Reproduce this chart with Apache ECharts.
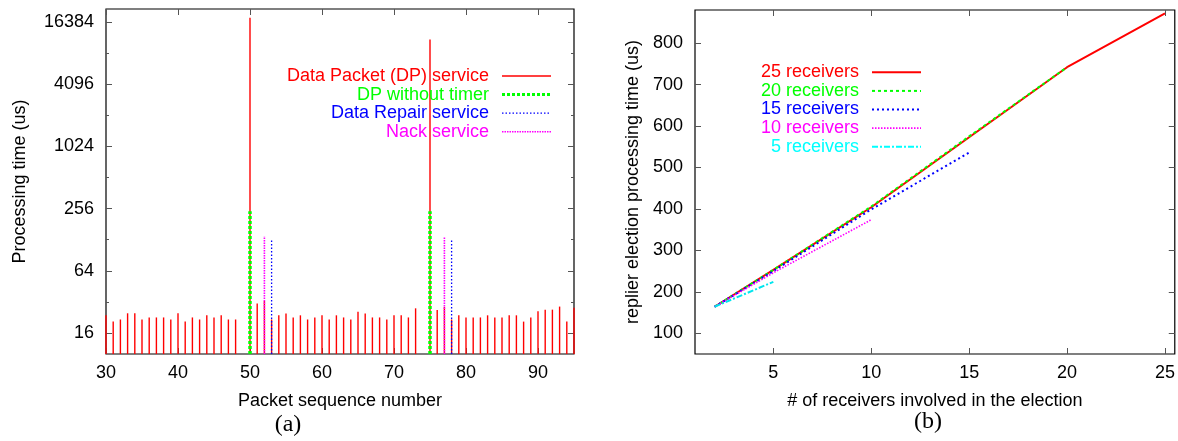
<!DOCTYPE html>
<html><head><meta charset="utf-8">
<script src="https://cdn.jsdelivr.net/npm/echarts@6/dist/echarts.min.js"></script>
<style>html,body{margin:0;padding:0;background:#fff}#c{width:1178px;height:441px}</style>
</head><body><div id="c"></div>
<script>
// ---------- Chart (a): processing time per packet (us) ----------
const packetSeq = [30,31,32,33,34,35,36,37,38,39,40,41,42,43,44,45,46,47,48,49,50,51,52,53,54,55,56,57,58,59,60,61,62,63,64,65,66,67,68,69,70,71,72,73,74,75,76,77,78,79,80,81,82,83,84,85,86,87,88,89,90,91,92,93,94,95];
const dpService = [23.7,20.6,21.6,24.8,24.8,21.6,22.6,22.6,22.6,21.6,24.8,20.6,22.6,21.6,23.7,22.6,23.7,21.6,21.6,null,18070,30.9,32.7,21.6,23.7,24.7,22.6,23.7,21.6,22.6,23.7,21.6,23.7,22.6,21.6,25.7,24.7,22.6,22.6,21.6,23.7,23.7,22.6,27.7,null,11140,26.7,28.6,21.6,23.7,22.6,22.6,22.6,23.7,22.6,22.6,23.7,23.7,20.6,22.6,25.9,26.9,26.9,28.8,20.6,28];
const dpNoTimerSeq = [50, 75];
const dpNoTimer = [242, 242];
const repairSeq = [53, 78];
const repairService = [128, 131];
const nackSeq = [52, 77];
const nackService = [138, 135];
const aXTicks = [30,40,50,60,70,80,90];
const aYTicks = [16,64,256,1024,4096,16384];
const aYMinorTicks = [32,128,512,2048,8192];

// ---------- Chart (b): replier election processing time (us) ----------
const r25X = [2,5,10,15,20,25];
const r25Y = [164,253,404,573,742,872];
const r20X = [2,5,10,15,20];
const r20Y = [164,253,406,575,742];
const r15X = [2,5,10,15];
const r15Y = [164,250,399,536];
const r10X = [2,5,10];
const r10Y = [164,246,374];
const r5X = [2,5];
const r5Y = [164,224];
const bXTicks = [5,10,15,20,25];
const bYTicks = [100,200,300,400,500,600,700,800];

const FONT = "'Liberation Sans', Arial, Helvetica, sans-serif";
const SERIF = "'Liberation Serif', 'Times New Roman', serif";
const lg2 = v => Math.log2(v);

function pairs(xs, ys, f) {
  const out = [];
  for (let i = 0; i < xs.length; i++) if (ys[i] != null) out.push([xs[i], f ? f(ys[i]) : ys[i]]);
  return out;
}

function stem(color, width, dash) {
  return function (params, api) {
    const p = api.coord([api.value(0), api.value(1)]);
    const cs = params.coordSys;
    const bottom = cs.y + cs.height;
    return { type: 'line', shape: { x1: p[0], y1: bottom, x2: p[0], y2: p[1] },
      style: { stroke: color, lineWidth: width, lineDash: dash || null, fill: null } };
  };
}

const tickStyle = { color: '#555', width: 1 };
function axisX(grid, pos, opt) {
  return Object.assign({
    type: 'value', gridIndex: grid, position: pos,
    axisLine: { show: false }, splitLine: { show: false },
    axisTick: { show: true, inside: true, length: 6, lineStyle: tickStyle },
    axisLabel: { show: false }
  }, opt);
}

const leftYMin = lg2(10), leftYMax = lg2(22000);

const option = {
  animation: false,
  backgroundColor: '#fff',
  textStyle: { fontFamily: FONT },
  grid: [
    { left: 106, top: 9, width: 468, height: 345, show: true, borderColor: '#000', borderWidth: 1.2, backgroundColor: 'transparent' },
    { left: 695, top: 10, width: 481, height: 344, show: true, borderColor: '#000', borderWidth: 1.2, backgroundColor: 'transparent' }
  ],
  xAxis: [
    axisX(0, 'bottom', { min: 30, max: 95,
      name: 'Packet sequence number', nameLocation: 'middle', nameGap: 38,
      nameTextStyle: { fontSize: 18, color: '#000', fontFamily: FONT },
      axisTick: { show: true, inside: true, length: 6, lineStyle: tickStyle, customValues: aXTicks },
      axisLabel: { show: true, fontSize: 18, color: '#000', margin: 10, fontFamily: FONT, customValues: aXTicks } }),
    axisX(0, 'top', { min: 30, max: 95,
      axisTick: { show: true, inside: true, length: 6, lineStyle: tickStyle, customValues: aXTicks } }),
    axisX(1, 'bottom', { min: 1, max: 25.5,
      name: '# of receivers involved in the election', nameLocation: 'middle', nameGap: 38,
      nameTextStyle: { fontSize: 18, color: '#000', fontFamily: FONT },
      axisTick: { show: true, inside: true, length: 6, lineStyle: tickStyle, customValues: bXTicks },
      axisLabel: { show: true, fontSize: 18, color: '#000', margin: 10, fontFamily: FONT, customValues: bXTicks } }),
    axisX(1, 'top', { min: 1, max: 25.5,
      axisTick: { show: true, inside: true, length: 6, lineStyle: tickStyle, customValues: bXTicks } })
  ],
  yAxis: [
    axisX(0, 'left', { min: leftYMin, max: leftYMax,
      name: 'Processing time (us)', nameLocation: 'middle', nameGap: 77,
      nameTextStyle: { fontSize: 18, color: '#000', fontFamily: FONT },
      axisTick: { show: true, inside: true, length: 6, lineStyle: tickStyle, customValues: aYTicks.map(lg2) },
      axisLabel: { show: true, fontSize: 18, color: '#000', margin: 12, fontFamily: FONT,
        customValues: aYTicks.map(lg2), formatter: v => String(Math.round(Math.pow(2, v))) } }),
    axisX(0, 'left', { min: leftYMin, max: leftYMax,
      axisTick: { show: true, inside: true, length: 3, lineStyle: tickStyle, customValues: aYMinorTicks.map(lg2) } }),
    axisX(0, 'right', { min: leftYMin, max: leftYMax,
      axisTick: { show: true, inside: true, length: 6, lineStyle: tickStyle, customValues: aYTicks.map(lg2) } }),
    axisX(0, 'right', { min: leftYMin, max: leftYMax,
      axisTick: { show: true, inside: true, length: 3, lineStyle: tickStyle, customValues: aYMinorTicks.map(lg2) } }),
    axisX(1, 'left', { min: 50, max: 880,
      name: 'replier election processing time (us)', nameLocation: 'middle', nameGap: 53,
      nameTextStyle: { fontSize: 18, color: '#000', fontFamily: FONT },
      axisTick: { show: true, inside: true, length: 6, lineStyle: tickStyle, customValues: bYTicks },
      axisLabel: { show: true, fontSize: 18, color: '#000', margin: 12, fontFamily: FONT, customValues: bYTicks } }),
    axisX(1, 'right', { min: 50, max: 880,
      axisTick: { show: true, inside: true, length: 6, lineStyle: tickStyle, customValues: bYTicks } })
  ],
  series: [
    { name: 'Data Packet (DP) service', type: 'custom', xAxisIndex: 0, yAxisIndex: 0, clip: false,
      renderItem: stem('#ff0000', 1.4), encode: { x: 0, y: 1 }, data: pairs(packetSeq, dpService, lg2) },
    { name: 'DP without timer', type: 'custom', xAxisIndex: 0, yAxisIndex: 0, clip: false,
      renderItem: stem('#00ff00', 3.5, [3, 2]), encode: { x: 0, y: 1 }, data: pairs(dpNoTimerSeq, dpNoTimer, lg2) },
    { name: 'Data Repair service', type: 'custom', xAxisIndex: 0, yAxisIndex: 0, clip: false,
      renderItem: stem('#0000ff', 1.3, [1.5, 2]), encode: { x: 0, y: 1 }, data: pairs(repairSeq, repairService, lg2) },
    { name: 'Nack service', type: 'custom', xAxisIndex: 0, yAxisIndex: 0, clip: false,
      renderItem: stem('#ff00ff', 1.6, [1.5, 1]), encode: { x: 0, y: 1 }, data: pairs(nackSeq, nackService, lg2) },

    { name: '25 receivers', type: 'line', xAxisIndex: 2, yAxisIndex: 4, showSymbol: false, symbol: 'none',
      lineStyle: { color: '#ff0000', width: 2 }, data: pairs(r25X, r25Y) },
    { name: '20 receivers', type: 'line', xAxisIndex: 2, yAxisIndex: 4, showSymbol: false, symbol: 'none',
      lineStyle: { color: '#00ff00', width: 2, type: [3, 3] }, data: pairs(r20X, r20Y) },
    { name: '15 receivers', type: 'line', xAxisIndex: 2, yAxisIndex: 4, showSymbol: false, symbol: 'none',
      lineStyle: { color: '#0000ff', width: 2, type: [2, 3] }, data: pairs(r15X, r15Y) },
    { name: '10 receivers', type: 'line', xAxisIndex: 2, yAxisIndex: 4, showSymbol: false, symbol: 'none',
      lineStyle: { color: '#ff00ff', width: 1.6, type: [1.5, 1.5] }, data: pairs(r10X, r10Y) },
    { name: '5 receivers', type: 'line', xAxisIndex: 2, yAxisIndex: 4, showSymbol: false, symbol: 'none',
      lineStyle: { color: '#00e5ee', width: 2, type: [6, 2, 2, 2] }, data: pairs(r5X, r5Y) }
  ],
  graphic: []
};

// Legends (gnuplot-style key: right-aligned text followed by a line sample)
const aKey = [
  { t: 'Data Packet (DP) service', c: '#ff0000', w: 1.4, d: null },
  { t: 'DP without timer', c: '#00ff00', w: 3, d: [3, 2] },
  { t: 'Data Repair service', c: '#0000ff', w: 1.3, d: [1.5, 2] },
  { t: 'Nack service', c: '#ff00ff', w: 1.6, d: [1.5, 1] }
];
const bKey = [
  { t: '25 receivers', c: '#ff0000', w: 2, d: null },
  { t: '20 receivers', c: '#00ff00', w: 2, d: [3, 3] },
  { t: '15 receivers', c: '#0000ff', w: 2, d: [2, 3] },
  { t: '10 receivers', c: '#ff00ff', w: 1.6, d: [1.5, 1.5] },
  { t: '5 receivers', c: '#00ffff', w: 2, d: [6, 2, 2, 2] }
];
function addKey(items, textRight, lx1, lx2, y0, dy) {
  items.forEach((it, i) => {
    const y = y0 + i * dy;
    option.graphic.push({ type: 'text', x: textRight, y: y, z: 100,
      style: { text: it.t, fill: it.c, font: '18px ' + FONT, textAlign: 'right', textVerticalAlign: 'middle' } });
    option.graphic.push({ type: 'line', z: 100, shape: { x1: lx1, y1: y, x2: lx2, y2: y },
      style: { stroke: it.c, lineWidth: it.w, lineDash: it.d } });
  });
}
addKey(aKey, 489, 502, 551, 76, 18.6);
addKey(bKey, 859, 872, 921, 72.3, 18.6);

option.graphic.push({ type: 'text', x: 288, y: 425, style: { text: '(a)', fill: '#000', font: '24px ' + SERIF, textAlign: 'center', textVerticalAlign: 'middle' } });
option.graphic.push({ type: 'text', x: 928, y: 422, style: { text: '(b)', fill: '#000', font: '24px ' + SERIF, textAlign: 'center', textVerticalAlign: 'middle' } });

const chart = echarts.init(document.getElementById('c'), null, { renderer: 'canvas' });
chart.setOption(option);
</script>
</body></html>
